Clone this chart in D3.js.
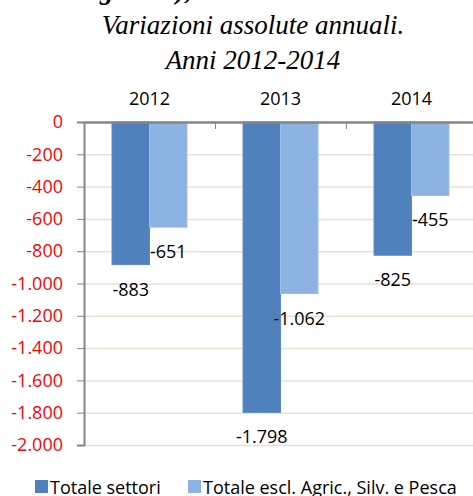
<!DOCTYPE html>
<html lang="it">
<head>
<meta charset="UTF-8">
<title>Variazioni assolute annuali</title>
<script src="https://cdn.jsdelivr.net/npm/d3@7"></script>
<style>
    body { margin: 0; background: #fff; }
    svg { display: block; }
    .title { font-family: "Liberation Serif", serif; font-style: italic; font-size: 27px; fill: #000; }
    .lbl { font-family: "Open Sans", sans-serif; font-size: 18px; fill: #000; }
</style>
</head>
<body>
<div id="chart"></div>
<script>
// dati
var years = ["2012", "2013", "2014"];
var seriesNames = ["Totale settori", "Totale escl. Agric., Silv. e Pesca"];
var totaleSettori = [-883, -1798, -825];
var totaleEscl = [-651, -1062, -455];
var yTicks = [0, -200, -400, -600, -800, -1000, -1200, -1400, -1600, -1800, -2000];

var colors = ["#4f81bd", "#8db3e2"];
var strokes = ["#5a8ac6", "#9cbde6"];

var W = 473, H = 496;
var svg = d3.select("#chart").append("svg").attr("width", W).attr("height", H);

// title (first line is cut off at the top of the picture)
svg.append("text").attr("class", "title").attr("x", 100).attr("y", -1)
    .style("font-weight", "bold").text("g");
svg.append("text").attr("class", "title").attr("x", 176).attr("y", -1)
    .style("font-weight", "bold").text("),");
svg.append("text").attr("class", "title").attr("x", 253).attr("y", 34)
    .attr("text-anchor", "middle").text("Variazioni assolute annuali.");
svg.append("text").attr("class", "title").attr("x", 253).attr("y", 69)
    .attr("text-anchor", "middle").text("Anni 2012-2014");

var plotLeft = 84, plotRight = 477, plotTop = 122, plotBottom = 445;

var x0 = d3.scaleBand().domain(years).range([plotLeft, plotRight]).padding(0);
var bw = x0.bandwidth();
var x1 = d3.scaleBand().domain(seriesNames).range([bw * 0.214, bw * 0.786]).padding(0);
var y = d3.scaleLinear().domain([-2000, 0]).range([plotBottom, plotTop]);

var fmt = function (v) {
    return d3.format(",")(v).replace(/,/g, ".").replace("−", "-");
};

// gridlines
svg.append("g").selectAll("line").data(yTicks.filter(function (d) { return d !== 0; }))
    .join("line")
    .attr("x1", plotLeft).attr("x2", plotRight)
    .attr("y1", function (d) { return y(d) + 0.5; })
    .attr("y2", function (d) { return y(d) + 0.5; })
    .attr("stroke", "#e6e2d6").attr("stroke-width", 1.5);

// y axis
var yAxis = d3.axisLeft(y).tickValues(yTicks).tickSize(7).tickPadding(14).tickFormat(fmt);
var gy = svg.append("g").attr("transform", "translate(" + plotLeft + ",0)").call(yAxis);
gy.select(".domain").attr("stroke", "#868686").attr("stroke-width", 2);
gy.selectAll(".tick line").attr("stroke", "#868686").attr("stroke-width", 1);
gy.selectAll(".tick text").attr("fill", "#ff0000")
    .style("font-family", "'Open Sans', sans-serif").style("font-size", "18px");

// bars
var data = years.map(function (yr, i) {
    return { year: yr, values: [totaleSettori[i], totaleEscl[i]] };
});
var groups = svg.append("g").selectAll("g").data(data).join("g")
    .attr("transform", function (d) { return "translate(" + x0(d.year) + ",0)"; });

groups.selectAll("rect").data(function (d) {
    return d.values.map(function (v, j) { return { s: seriesNames[j], v: v, j: j }; });
}).join("rect")
    .attr("x", function (d) { return x1(d.s); })
    .attr("width", x1.bandwidth())
    .attr("y", y(0))
    .attr("height", function (d) { return y(d.v) - y(0); })
    .attr("fill", function (d) { return colors[d.j]; })
    .attr("stroke", function (d) { return strokes[d.j]; })
    .attr("stroke-width", 1);

groups.selectAll("text").data(function (d) {
    return d.values.map(function (v, j) { return { s: seriesNames[j], v: v }; });
}).join("text")
    .attr("class", "lbl")
    .attr("x", function (d) { return x1(d.s) + x1.bandwidth() / 2; })
    .attr("y", function (d) { return y(d.v) + 24; })
    .attr("text-anchor", "middle")
    .attr("dominant-baseline", "central")
    .text(function (d) { return fmt(d.v); });

// top category axis
var xAxis = d3.axisTop(x0).tickSize(0).tickPadding(17);
var gx = svg.append("g").attr("transform", "translate(0," + plotTop + ")").call(xAxis);
gx.select(".domain").attr("stroke", "#868686").attr("stroke-width", 2.5);
gx.selectAll(".tick text").attr("fill", "#000")
    .style("font-family", "'Open Sans', sans-serif").style("font-size", "18px");
svg.append("g").selectAll("line").data(years.slice(1)).join("line")
    .attr("x1", function (d) { return Math.round(x0(d)) + 0.5; })
    .attr("x2", function (d) { return Math.round(x0(d)) + 0.5; })
    .attr("y1", plotTop).attr("y2", plotTop + 7)
    .attr("stroke", "#868686");

// legend
var legendX = [35, 188];
var leg = svg.append("g").selectAll("g").data(seriesNames).join("g")
    .attr("transform", function (d, i) { return "translate(" + legendX[i] + ",480)"; });
leg.append("rect").attr("width", 13).attr("height", 13)
    .attr("fill", function (d, i) { return colors[i]; });
leg.append("text").attr("class", "lbl").attr("x", 15).attr("y", 7)
    .attr("dominant-baseline", "central").text(function (d) { return d; });
</script>
</body>
</html>
